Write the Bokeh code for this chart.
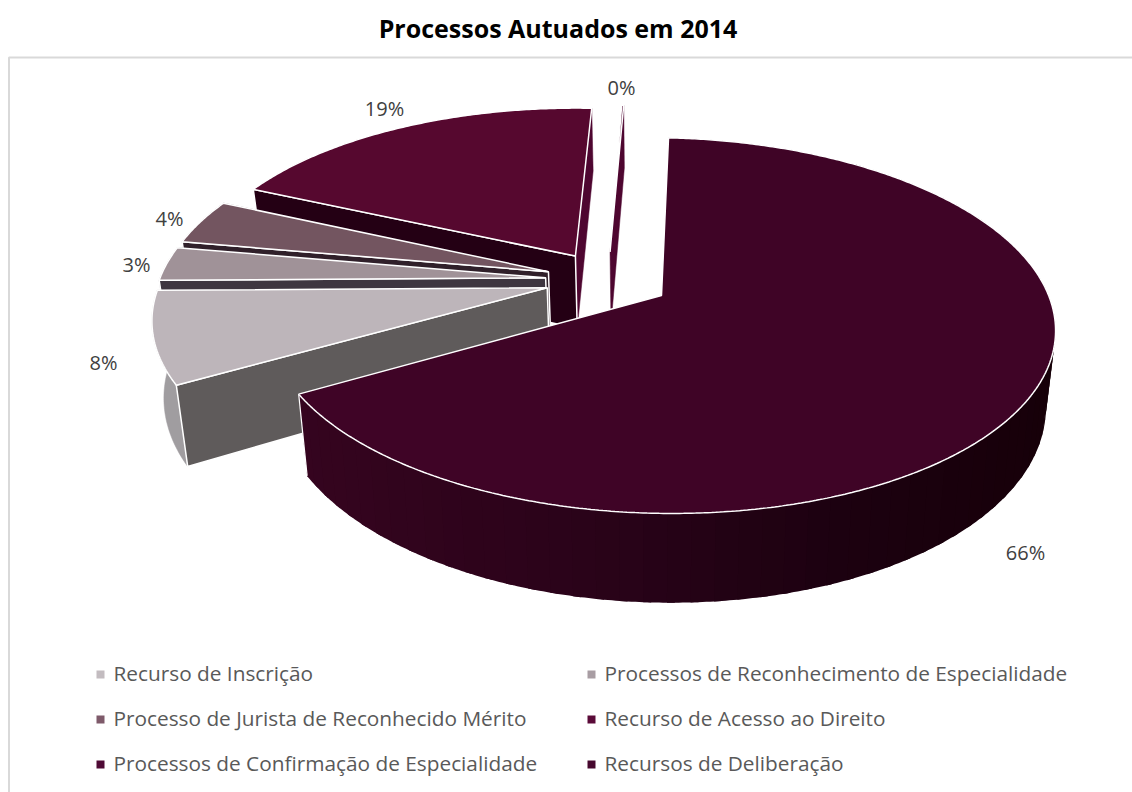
import math
from bokeh.plotting import figure
from bokeh.models import Range1d
from bokeh.embed import file_html
from bokeh.resources import INLINE
from bokeh.core.properties import value

# ---- data ----
categories = ["Recurso de Inscrição", "Processos de Reconhecimento de Especialidade",
              "Processo de Jurista de Reconhecido Mérito", "Recurso de Acesso ao Direito",
              "Processos de Confirmação de Especialidade", "Recursos de Deliberação"]
percent = [8.0, 3.0, 4.0, 18.9, 0.1, 66.0]

# ---- styles ----
top_colors = ["#bdb5ba", "#a09298", "#735560", "#56082f", "#4e0630", "#3f0426"]
legend_colors = ["#c3bcc0", "#a89da3", "#7e5a6a", "#5a0a38", "#4f0a35", "#46082e"]
start_face = ["#5f5b5b", "#3e3640", "#30202a", "#240014", "#4e0630", "#3f0426"]
end_face = ["#5f5b5b", "#3e3640", "#30202a", "#4e0630", "#4e0630", "#3f0426"]
rim_color = ["#a09da0", "#857b80", "#5a4650", None, None, None]
label_xy = [(103, 362), (136, 264), (169, 218), (384, 108), (621, 87), (1025, 552)]
legend_xy = [(100, 674), (591, 674), (100, 719), (591, 719), (100, 764), (591, 764)]

# ---- 3D pie projection ----
K, A, B = 0.16, 183.0, 389.0
X0, Y0 = 661.0, 295.0
SHEAR = 0.013
EXPLODE = 0.162
VX, Q, D = 650.0, 0.024, 75.0
THETA0 = 1.2


def proj(u, v):
    s = 1.0 / (1.0 + K * v)
    x = X0 + B * u * s
    return x, Y0 - A * v * s + SHEAR * (x - X0), s


def down(u, v):
    x, y, s = proj(u, v)
    return VX + (x - VX) * (1 - Q), y + D * s


def lerp_hex(stops, x):
    if x <= stops[0][0]:
        return stops[0][1]
    for (x0, c0), (x1, c1) in zip(stops, stops[1:]):
        if x <= x1:
            t = (x - x0) / (x1 - x0)
            rgb = [int(round(int(c0[i:i + 2], 16) * (1 - t) + int(c1[i:i + 2], 16) * t)) for i in (1, 3, 5)]
            return "#%02x%02x%02x" % tuple(rgb)
    return stops[-1][1]


MAIN_STOPS = [(300, "#35041f"), (600, "#2a0319"), (850, "#1c0110"), (1050, "#170009")]

total = sum(percent)
spans = [v / total * 360.0 for v in percent]
main_mid = THETA0 + spans[5] / 2.0
cu = -EXPLODE * math.sin(math.radians(main_mid))
cv = -EXPLODE * math.cos(math.radians(main_mid))

ranges = [None] * 6
ranges[5] = (THETA0, THETA0 + spans[5])
a = ranges[5][1]
for i in range(5):
    ranges[i] = (a, a + spans[i])
    a += spans[i]

p = figure(width=1132, height=792, x_range=Range1d(0, 1132), y_range=Range1d(792, 0),
           output_backend="svg", toolbar_location=None, min_border=0)
p.axis.visible = False
p.grid.visible = False
p.outline_line_color = None
p.background_fill_color = "white"

# frame (top and left)
p.line([8.5, 8.5, 1132], [792, 57, 57], line_color="#d9d9d9", line_width=2)

for i in [4, 3, 2, 1, 0, 5]:
    a0, a1 = ranges[i]
    mid = (a0 + a1) / 2.0
    au = cu + EXPLODE * math.sin(math.radians(mid))
    av = cv + EXPLODE * math.cos(math.radians(mid))
    n = max(2, int((a1 - a0) * 2))
    angs = [a0 + (a1 - a0) * j / n for j in range(n + 1)]
    rim = [(au + math.sin(math.radians(t)), av + math.cos(math.radians(t))) for t in angs]

    ax, ay, _ = proj(au, av)
    bx, by = down(au, av)
    tx = [proj(*r)[0] for r in rim]
    ty = [proj(*r)[1] for r in rim]
    lx = [down(*r)[0] for r in rim]
    ly = [down(*r)[1] for r in rim]

    if i != 5:
        c = end_face[i]
        p.patch([ax, tx[-1], lx[-1], bx], [ay, ty[-1], ly[-1], by], fill_color=c, line_color=c, line_width=0.5)
        if rim_color[i]:
            c = rim_color[i]
            p.patch(tx + lx[::-1], ty + ly[::-1], fill_color=c, line_color=c, line_width=0.5)
        if i != 4:
            p.patch([ax, tx[0], lx[0], bx], [ay, ty[0], ly[0], by], fill_color=start_face[i],
                    line_color="white", line_width=1.5)
    else:
        # shaded outer wall: overlapping strips, painted from the end of the arc backwards
        step = 6
        for j in range(n - (n % step or step), -1, -step):
            k = min(n, j + step + 2)
            c = lerp_hex(MAIN_STOPS, (tx[j] + tx[min(n, j + step)]) / 2)
            xs = tx[j:k + 1] + lx[j:k + 1][::-1]
            ys = ty[j:k + 1] + ly[j:k + 1][::-1]
            p.patch(xs, ys, fill_color=c, line_color=None)
        p.line([tx[-1], lx[-1]], [ty[-1], ly[-1]], line_color="white", line_width=1.2)

    p.patch([ax] + tx, [ay] + ty, fill_color=top_colors[i], line_color="white", line_width=1.5)

# value labels
label_text = ["%d%%" % round(v) for v in percent]
p.text(x=[q[0] for q in label_xy], y=[q[1] for q in label_xy], text=label_text,
       text_font=value("Open Sans"), text_font_size="20px", text_color="#404040",
       text_align="center", text_baseline="middle")

# legend
p.scatter(x=[q[0] for q in legend_xy], y=[q[1] for q in legend_xy], marker="square", size=8,
          color=legend_colors, line_color=None)
p.text(x=[q[0] + 13 for q in legend_xy], y=[q[1] - 2 for q in legend_xy], text=categories,
       text_font=value("Open Sans"), text_font_size="20.8px", text_color="#595959",
       text_align="left", text_baseline="middle")

# title
p.text(x=[557.5], y=[27.5], text=["Processos Autuados em 2014"],
       text_font=value("Open Sans"), text_font_style="bold", text_font_size="25px",
       text_color="#000000", text_align="center", text_baseline="middle")

open("out.html", "w").write(file_html(p, INLINE))
